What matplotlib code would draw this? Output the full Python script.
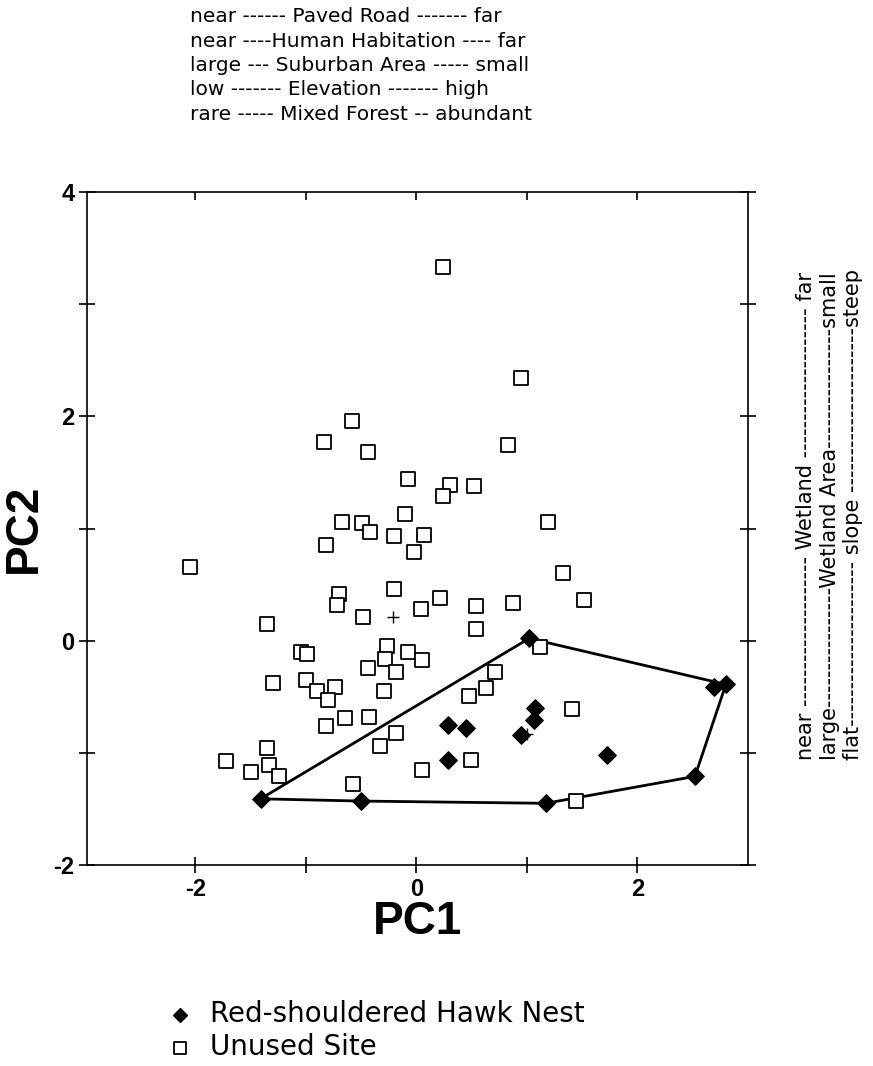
import matplotlib
matplotlib.use('Agg')
import matplotlib.pyplot as plt
import numpy as np

# unused sites (open squares)
unused_pc1 = [0.24, 0.95, 0.83, -0.08, 0.30, 0.24, 0.52, -0.10, 1.19, -0.58,
              -0.84, -0.44, -0.67, -0.49, -0.42, -0.20, 0.07, -0.02, -0.82, -2.05,
              -0.70, -0.72, -0.20, -0.48, 0.04, -1.35, -1.04, -0.99, -0.27, -0.28,
              -0.08, 0.05, -0.44, -0.18, -1.30, -1.00, -0.90, -0.74, -0.80, -0.29,
              -0.82, -0.65, -0.43, -0.18, -0.33, -1.35, -1.72, -1.33, -1.50, -1.24,
              0.05, -0.57, 1.33, 1.52, 0.21, 0.54, 0.87, 0.54, 1.12, 0.71,
              0.63, 0.48, 1.41, 0.49, 1.44]
unused_pc2 = [3.33, 2.34, 1.74, 1.44, 1.39, 1.29, 1.38, 1.13, 1.06, 1.96,
              1.77, 1.68, 1.06, 1.05, 0.97, 0.93, 0.94, 0.79, 0.85, 0.66,
              0.42, 0.32, 0.46, 0.21, 0.28, 0.15, -0.10, -0.12, -0.05, -0.16,
              -0.10, -0.17, -0.24, -0.28, -0.38, -0.35, -0.45, -0.41, -0.53, -0.45,
              -0.76, -0.69, -0.68, -0.82, -0.94, -0.96, -1.07, -1.11, -1.17, -1.21,
              -1.15, -1.28, 0.60, 0.36, 0.38, 0.31, 0.34, 0.10, -0.06, -0.28,
              -0.42, -0.49, -0.61, -1.06, -1.43]

# red-shouldered hawk nests (filled diamonds)
nest_pc1 = [-1.41, -0.50, 1.02, 2.69, 2.80, 2.52, 1.17, 1.72, 0.29, 0.45, 0.29, 1.07, 1.06, 0.95]
nest_pc2 = [-1.41, -1.43, 0.02, -0.41, -0.39, -1.21, -1.45, -1.02, -0.75, -0.78, -1.06, -0.60, -0.71, -0.84]
hull_order = [0, 2, 4, 5, 6, 1, 0]

# group centroids (+)
centroid_pc1 = [-0.21, 1.00]
centroid_pc2 = [0.21, -0.83]

x_ticks = [-2, -1, 0, 1, 2]
x_ticklabels = ['-2', '', '0', '', '2']
y_ticks = [-2, -1, 0, 1, 2, 3, 4]
y_ticklabels = ['-2', '', '0', '', '2', '', '4']

top_lines = ['near ------ Paved Road ------- far',
             'near ----Human Habitation ---- far',
             'large --- Suburban Area ----- small',
             'low ------- Elevation ------- high',
             'rare ----- Mixed Forest -- abundant']
side_lines = ['near -------------------- Wetland -------------------- far',
              'large----------------Wetland Area----------------small',
              'flat---------------------- slope ----------------------steep']

plt.rcParams['xtick.labelsize'] = 17
plt.rcParams['ytick.labelsize'] = 17

fig = plt.figure(figsize=(8.73, 10.66), dpi=100)
ax = fig.add_axes([87/873, 1-865/1066, (748-87)/873, (865-192)/1066])

hx = [nest_pc1[i] for i in hull_order]
hy = [nest_pc2[i] for i in hull_order]
ax.plot(hx, hy, color='black', lw=2.0, zorder=2)

sq = ax.scatter(unused_pc1, unused_pc2, marker='s', s=105, facecolors='white',
                edgecolors='black', linewidths=1.3, zorder=3)
dm = ax.scatter(nest_pc1, nest_pc2, marker='D', s=78, color='black', zorder=4)
ax.scatter(centroid_pc1, centroid_pc2, marker='+', s=70, color='black', linewidths=1.0, zorder=5)

ax.set_xlim(-2.98, 3.0)
ax.set_ylim(-2, 4)
for sp in ax.spines.values():
    sp.set_linewidth(1.2)
ax.tick_params(axis='both', direction='inout', length=11, width=1.2, top=True, right=True,
               labelsize=17, labelfontfamily='Liberation Sans')
ax.set_xticks(x_ticks, labels=x_ticklabels)
ax.set_yticks(y_ticks, labels=y_ticklabels)
# top ticks point inward only
for t in ax.xaxis.get_major_ticks():
    t.tick2line.set_marker(3)
    t.tick2line.set_markersize(6)

ax.set_xlabel('PC1', fontfamily='Liberation Sans', fontweight='bold', fontsize=33, labelpad=0)
ax.set_ylabel('PC2', fontfamily='Liberation Sans', fontweight='bold', fontsize=33)
ax.yaxis.set_label_coords(-0.062, 0.5)

for i, line in enumerate(top_lines):
    fig.text(190/873, 1-(17+24.3*i)/1066, line, fontfamily='DejaVu Sans', fontsize=14.5,
             ha='left', va='center')

for i, line in enumerate(side_lines):
    fig.text((806+23.5*i)/873, 1-760/1066, line, fontfamily='DejaVu Sans', fontsize=15,
             rotation=90, rotation_mode='anchor', ha='left', va='center')

fig.legend([dm, sq], ['Red-shouldered Hawk Nest', 'Unused Site'], loc='upper left',
           bbox_to_anchor=(138/873, 1-986/1066), frameon=False,
           prop={'family': 'DejaVu Sans', 'size': 20}, handletextpad=0.1,
           labelspacing=0.2, markerscale=0.8, borderpad=0)

fig.canvas.draw()
for lab in ax.get_xticklabels() + ax.get_yticklabels():
    lab.set_fontweight('bold')
    lab.set_fontsize(17)

fig.savefig('out.png', dpi=100)
